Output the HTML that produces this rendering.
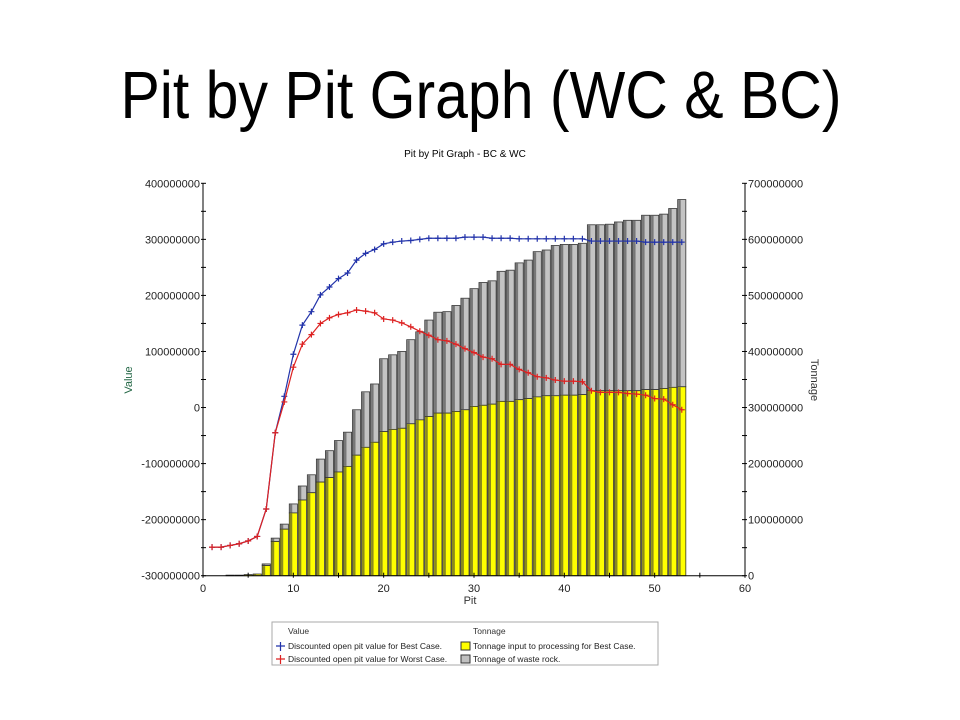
<!DOCTYPE html>
<html><head><meta charset="utf-8"><style>
html,body{margin:0;padding:0;background:#fff;width:960px;height:720px;overflow:hidden}
svg{position:absolute;left:0;top:0}
text{font-family:"Liberation Sans",sans-serif}
</style></head><body>
<svg id="chart" width="960" height="720">
<text transform="translate(481,118) scale(1,1.13)" x="0" y="0" font-size="59" text-anchor="middle" fill="#000">Pit by Pit Graph (WC &amp; BC)</text>
<text x="465" y="157" font-size="10" text-anchor="middle">Pit by Pit Graph - BC &amp; WC</text>
<text x="470" y="604" font-size="11" text-anchor="middle" fill="#333">Pit</text>
<text transform="translate(132,380) rotate(-90)" font-size="11" text-anchor="middle" fill="#264">Value</text>
<text transform="translate(811,380) rotate(90)" font-size="11" text-anchor="middle" fill="#333">Tonnage</text>
<g id="bars"></g><g id="lines"></g><g id="axes"></g>
<g>
<rect x="272" y="622" width="386" height="43" fill="#fff" stroke="#aaa"/>
<text x="288" y="634" font-size="8.5" fill="#333">Value</text>
<text x="473" y="634" font-size="8.5" fill="#333">Tonnage</text>
<g><path d="M276 646h9M280.5 642v9" stroke="#2233aa" stroke-width="1.2"/><text x="288" y="649" font-size="8.5" fill="#222">Discounted open pit value for Best Case.</text></g>
<g><path d="M276 659h9M280.5 655v9" stroke="#dd2222" stroke-width="1.2"/><text x="288" y="662" font-size="8.5" fill="#222">Discounted open pit value for Worst Case.</text></g>
<g><rect x="461" y="642" width="9" height="8" fill="#ffff00" stroke="#333"/><text x="473" y="649" font-size="8.5" fill="#222">Tonnage input to processing for Best Case.</text></g>
<g><rect x="461" y="655" width="9" height="8" fill="#c0c0c0" stroke="#333"/><text x="473" y="662" font-size="8.5" fill="#222">Tonnage of waste rock.</text></g>
</g>
</svg>
<script>
const pits=[];for(let i=1;i<=53;i++)pits.push(i);
const oreM=[0,0,1,1,2,3,18,61,83,112,135,148,167,175,185,195,215,229,238,257,261,263,271,278,284,290,290,293,296,302,304,306,311,311,314,316,319,321,321,322,322,323,330,330,330,330,330,330,332,332,334,336,337];
const totalM=[0,0,1,1,2,3,21,67,92,128,160,180,208,223,241,256,296,328,342,387,394,400,421,435,456,470,471,482,495,512,523,526,543,545,558,563,578,581,589,591,591,593,626,626,627,631,634,634,643,643,645,655,671];
const bestM=[-249,-249,-246,-243,-238,-230,-181,-45,20,95,147,171,201,215,230,240,263,275,282,292,295,297,298,300,302,302,302,302,304,304,304,302,302,302,301,301,301,301,301,301,301,301,297,297,297,297,297,297,295,295,295,295,295];
const worstM=[-249,-249,-246,-243,-238,-230,-181,-45,10,72,113,130,150,160,166,169,174,172,169,158,156,151,144,136,129,121,119,113,105,98,90,87,77,77,68,62,55,53,49,47,47,46,30,27,27,27,25,24,22,16,15,5,-4];
const xTicks=[0,10,20,30,40,50,60];
const leftTicks=[400,300,200,100,0,-100,-200,-300];
const rightTicks=[700,600,500,400,300,200,100,0];
const NS="http://www.w3.org/2000/svg";
const X0=203,X1=745,YT=183.3,YB=575.7;
const xs=v=>X0+(v/60)*(X1-X0);
const yl=v=>YB-(v+300)/700*(YB-YT);
const yr=v=>YB-v/700*(YB-YT);
function mk(tag,attrs,parent){const e=document.createElementNS(NS,tag);for(const k in attrs)e.setAttribute(k,attrs[k]);parent.appendChild(e);return e;}
const bars=document.getElementById('bars'),lines=document.getElementById('lines'),axes=document.getElementById('axes');
const bw=(xs(1)-xs(0))*0.9;
pits.forEach((p,i)=>{
  const xl=xs(p)-bw/2;
  const g=mk('g',{},bars);
  
  
  const yt=yr(totalM[i]),yo=yr(oreM[i]);
  if(totalM[i]>oreM[i]){mk('rect',{x:xl,y:yt,width:bw,height:yo-yt,fill:'#c4c4c4',stroke:'#333','stroke-width':0.8},g);mk('rect',{x:xl+0.5,y:yt+0.5,width:2.5,height:Math.max(0,yo-yt-1),fill:'#777'},g);}
  if(oreM[i]>0){mk('rect',{x:xl,y:yo,width:bw,height:YB-yo,fill:'#ffff00',stroke:'#333','stroke-width':0.8},g);mk('rect',{x:xl+0.5,y:yo+0.5,width:2.5,height:Math.max(0,YB-yo-1),fill:'#8a8a1e'},g);}
});
function series(vals,color,name){
  const g=mk('g',{},lines);
  
  
  mk('polyline',{points:vals.map((v,i)=>xs(pits[i])+','+yl(v)).join(' '),fill:'none',stroke:color,'stroke-width':1.2},g);
  let d='';vals.forEach((v,i)=>{const x=xs(pits[i]),y=yl(v);d+=`M${x-3},${y}h6M${x},${y-3}v6`;});
  mk('path',{d:d,stroke:color,'stroke-width':1.2},g);
}
series(bestM,'#2233aa','line-best-case');
series(worstM,'#dd2222','line-worst-case');
mk('line',{x1:X0,y1:YT,x2:X0,y2:YB,stroke:'#000'},axes);
mk('line',{x1:X1,y1:YT,x2:X1,y2:YB,stroke:'#000'},axes);
mk('line',{x1:X0,y1:YB,x2:X1,y2:YB,stroke:'#000'},axes);
for(let v=0;v<=60;v+=5)mk('line',{x1:xs(v),y1:YB-3,x2:xs(v),y2:YB+2,stroke:'#000'},axes);
for(let v=-300;v<=400;v+=50)mk('line',{x1:X0-2,y1:yl(v),x2:X0+3,y2:yl(v),stroke:'#000'},axes);
for(let v=0;v<=700;v+=50)mk('line',{x1:X1-3,y1:yr(v),x2:X1+2,y2:yr(v),stroke:'#000'},axes);
xTicks.forEach(v=>{const t=mk('text',{x:xs(v),y:592,'font-size':11,'text-anchor':'middle',fill:'#222'},axes);t.textContent=v;

});
leftTicks.forEach(v=>{const t=mk('text',{x:X0-3,y:yl(v)+4,'font-size':11,'text-anchor':'end',fill:'#222'},axes);t.textContent=v===0?'0':String(v*1000000);

});
rightTicks.forEach(v=>{const t=mk('text',{x:X1+3,y:yr(v)+4,'font-size':11,'text-anchor':'start',fill:'#222'},axes);t.textContent=v===0?'0':String(v*1000000);

});
</script>
</body></html>
